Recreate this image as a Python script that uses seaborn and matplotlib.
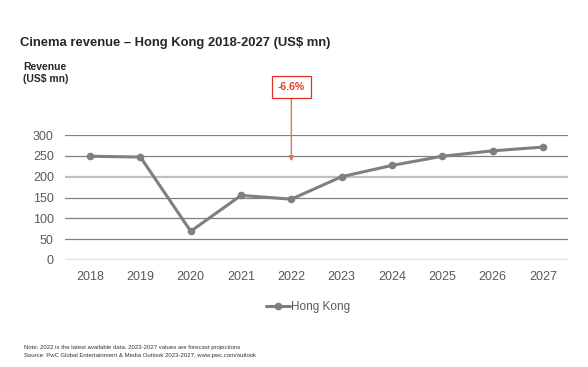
import numpy as np
import pandas as pd
import seaborn as sns
import matplotlib.pyplot as plt

# values
years = [2018, 2019, 2020, 2021, 2022, 2023, 2024, 2025, 2026, 2027]
revenue = [249, 247, 69, 155, 146, 200, 227, 249, 262, 271]
yticks = [0, 50, 100, 150, 200, 250, 300]

df = pd.DataFrame({"Year": years, "Revenue": revenue, "Market": "Hong Kong"})

sns.set_style("white")
plt.rcParams['font.family'] = ['Liberation Sans', 'DejaVu Sans']

fig = plt.figure(figsize=(5.88, 3.67), dpi=100)
ax = fig.add_axes([65 / 588, 1 - 260 / 367, (568 - 65) / 588, 125 / 367])

sns.lineplot(data=df, x="Year", y="Revenue", hue="Market", palette=["#7f7f7f"],
             marker="o", markersize=5.5, markeredgewidth=0, linewidth=2.2, ax=ax)

ax.set_xlim(2017.5, 2027.5)
ax.set_ylim(0, 300)
ax.set_xticks(years)
ax.set_yticks(yticks)
ax.tick_params(axis='both', length=0, labelsize=9, labelcolor='#595959')
ax.tick_params(axis='x', pad=8)
ax.tick_params(axis='y', pad=8)
ax.set_xlabel("")
ax.set_ylabel("")
for s in ax.spines.values():
    s.set_visible(False)

# horizontal gridlines with their differing shades
ax.grid(axis='y', color='#808080', linewidth=0.9)
ax.set_axisbelow(True)
for val, gl in zip(yticks, ax.get_ygridlines()):
    if val == 0:
        gl.set_color('#e0e0e0')
        gl.set_linewidth(2.5)
    elif val == 200:
        gl.set_color('#c0c0c0')
        gl.set_linewidth(1.6)

# -6.6% callout over 2022
ax.annotate("-6.6%", xy=(2022, 237), xytext=(2022, 415), annotation_clip=False,
            ha='center', va='center', fontsize=7.5, fontweight='bold', color='#e0401e',
            bbox=dict(boxstyle='square,pad=0.55', fc='white', ec='#e0301e', lw=0.9),
            arrowprops=dict(arrowstyle='-|>', color='#e8734f', lw=1, mutation_scale=7,
                            shrinkA=0, shrinkB=0))

leg = ax.legend(loc='center', bbox_to_anchor=(308 / 588, 1 - 307 / 367),
                bbox_transform=fig.transFigure, frameon=False, fontsize=8.5,
                handlelength=2.0, handletextpad=0.1)
for t in leg.get_texts():
    t.set_color('#595959')

fig.text(20 / 588, 1 - 43 / 367, "Cinema revenue \u2013 Hong Kong 2018-2027 (US$ mn)",
         fontsize=9.4, fontweight='bold', va='center')
fig.text(23 / 588, 1 - 73 / 367, "Revenue\n(US$ mn)", fontsize=7.5, fontweight='bold',
         va='center', linespacing=1.3)
fig.text(24 / 588, 1 - 347 / 367,
         "Note: 2022 is the latest available data. 2023-2027 values are forecast projections",
         fontsize=4.3, va='center', color='#333333')
fig.text(24 / 588, 1 - 356 / 367,
         "Source: PwC Global Entertainment & Media Outlook 2023-2027, www.pwc.com/outlook",
         fontsize=4.3, va='center', color='#333333')

fig.savefig("out.png", dpi=100)
